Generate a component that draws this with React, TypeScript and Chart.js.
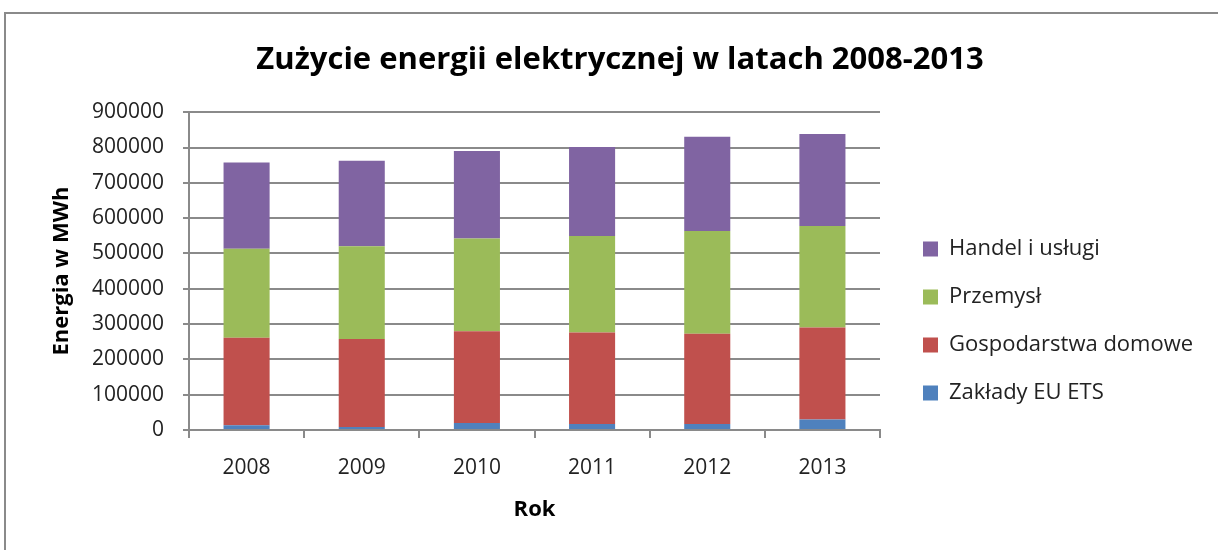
import React, { useEffect, useRef } from "react";
import { Chart, registerables } from "chart.js";

Chart.register(...registerables);

const years = ["2008", "2009", "2010", "2011", "2012", "2013"];
const zakladyEuEts = [13100, 8400, 19700, 16900, 16900, 30000];
const gospodarstwaDomowe = [248200, 249100, 260300, 259300, 255600, 260200];
const przemysl = [251900, 263100, 262100, 273400, 291200, 287500];
const handelIUslugi = [244300, 241600, 248100, 251900, 266800, 260300];

const FONT = "'Open Sans', Lato, sans-serif";
const LEGEND_WIDTH = 338;
const LEGEND_SHIFT = 17;

const framePlugin = {
  id: "frame",
  beforeDraw(chart: any) {
    const ctx = chart.ctx;
    ctx.save();
    ctx.fillStyle = "#ffffff";
    ctx.fillRect(0, 0, chart.width, chart.height);
    ctx.strokeStyle = "#8a8a8a";
    ctx.lineWidth = 2;
    ctx.beginPath();
    ctx.moveTo(5, chart.height + 5);
    ctx.lineTo(5, 13);
    ctx.lineTo(chart.width + 5, 13);
    ctx.stroke();
    ctx.restore();
  },
};

// Gives the legend a fixed width and moves its items a little away from the plot.
const legendSpacePlugin = {
  id: "legendSpace",
  beforeLayout(chart: any) {
    const lg = chart.legend;
    if (!lg || lg._spaced) return;
    lg._spaced = true;
    const fit = lg.fit.bind(lg);
    lg.fit = function () {
      fit();
      this.width = LEGEND_WIDTH;
    };
    const draw = lg.draw.bind(lg);
    lg.draw = function () {
      const ctx = this.ctx;
      ctx.save();
      ctx.translate(LEGEND_SHIFT, 0);
      draw();
      ctx.restore();
    };
  },
};

export default function App() {
  const ref = useRef<HTMLCanvasElement | null>(null);
  useEffect(() => {
    if (!ref.current) return;
    const chart = new Chart(ref.current, {
      type: "bar",
      data: {
        labels: years,
        datasets: [
          { label: "Zakłady EU ETS", data: zakladyEuEts, backgroundColor: "#4F81BD" },
          { label: "Gospodarstwa domowe", data: gospodarstwaDomowe, backgroundColor: "#C0504D" },
          { label: "Przemysł", data: przemysl, backgroundColor: "#9BBB59" },
          { label: "Handel i usługi", data: handelIUslugi, backgroundColor: "#8064A2" },
        ],
      },
      plugins: [framePlugin, legendSpacePlugin],
      options: {
        responsive: false,
        animation: false,
        devicePixelRatio: 1,
        layout: { padding: { left: 22, right: 0, top: 0, bottom: 29 } },
        datasets: { bar: { barPercentage: 0.4, categoryPercentage: 1 } },
        plugins: {
          title: {
            display: true,
            text: "Zużycie energii elektrycznej w latach 2008-2013",
            color: "#000",
            font: { family: FONT, size: 31, weight: "bold", lineHeight: 1.2 },
            padding: { top: 42, bottom: 33 },
          },
          legend: {
            position: "right",
            align: "end",
            fullSize: false,
            reverse: true,
            labels: {
              color: "#222",
              font: { family: FONT, size: 22 },
              boxWidth: 15,
              boxHeight: 15,
              padding: 26,
            },
          },
          tooltip: { enabled: false },
        },
        scales: {
          x: {
            stacked: true,
            grid: {
              offset: true,
              drawOnChartArea: false,
              drawTicks: true,
              tickLength: 8,
              color: "#8a8a8a",
              lineWidth: 2,
            },
            border: { color: "#8a8a8a", width: 2 },
            ticks: { color: "#222", font: { family: FONT, size: 21, lineHeight: 1.0 }, padding: 20 },
            title: {
              display: true,
              text: "Rok",
              color: "#000",
              font: { family: FONT, size: 22, weight: "bold", lineHeight: 1.0 },
              padding: { top: 0, bottom: 0 },
            },
          },
          y: {
            stacked: true,
            min: 0,
            max: 900000,
            afterFit(scale: any) {
              scale.width = 167;
            },
            ticks: {
              stepSize: 100000,
              color: "#222",
              font: { family: FONT, size: 21 },
              padding: 19,
              callback: (v: any) => String(v),
            },
            grid: { color: "#8a8a8a", lineWidth: 2, tickLength: 6 },
            border: { color: "#8a8a8a", width: 2 },
            title: {
              display: true,
              text: "Energia w MWh",
              color: "#000",
              font: { family: FONT, size: 22, weight: "bold", lineHeight: 1.2 },
              padding: { top: 27, bottom: 0 },
            },
          },
        },
      },
    });
    return () => chart.destroy();
  }, []);
  return (
    <div style={{ position: "fixed", left: 0, top: 0, width: 1218, height: 550 }}>
      <canvas ref={ref} width={1218} height={550} />
    </div>
  );
}
